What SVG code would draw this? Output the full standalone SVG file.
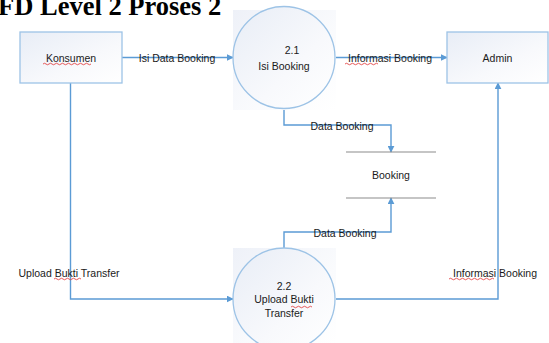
<svg xmlns="http://www.w3.org/2000/svg" width="549" height="343" viewBox="0 0 549 343">
  <defs>
    <linearGradient id="shade" x1="0" y1="0" x2="1" y2="1">
      <stop offset="0" stop-color="#e8edf6"/>
      <stop offset="0.6" stop-color="#f8f9fc"/>
      <stop offset="1" stop-color="#ffffff"/>
    </linearGradient>
    <linearGradient id="shadeSoft" x1="0" y1="0" x2="1" y2="1">
      <stop offset="0" stop-color="#eef1f8"/>
      <stop offset="0.6" stop-color="#fafbfd"/>
      <stop offset="1" stop-color="#ffffff"/>
    </linearGradient>
    <marker id="arrow" viewBox="0 0 10 10" refX="9" refY="5" markerWidth="7" markerHeight="7" markerUnits="userSpaceOnUse" orient="auto">
      <path d="M0,0 L10,5 L0,10 z" fill="#5b9bd5"/>
    </marker>
  </defs>
  <style>
    .title { font-family: "Liberation Serif", "Times New Roman", serif; font-weight: bold; font-size: 26.5px; fill: #000; }
    .lbl { font-family: "Liberation Sans", Arial, sans-serif; font-size: 10.5px; fill: #1a1a1a; }
    .entity { fill: url(#shade); stroke: #9dc3e6; stroke-width: 1.3; }
    .proc { fill: url(#shade); stroke: #9dc3e6; stroke-width: 1.3; }
    .bg { fill: url(#shadeSoft); }
    .store { stroke: #8c8c8c; stroke-width: 1.2; fill: none; }
    .flow { fill: none; stroke: #5b9bd5; stroke-width: 1.4; }
    .squig { fill: none; stroke: #e03030; stroke-width: 0.8; }
  </style>

  <rect width="549" height="343" fill="#ffffff"/>

  <text class="title" x="-2" y="15">FD Level 2 Proses 2</text>

  <!-- connectors -->
  <g id="connectors">
    <line class="flow" x1="122" y1="57.5" x2="233" y2="57.5" marker-end="url(#arrow)"/>
    <line class="flow" x1="335" y1="57.5" x2="447" y2="57.5" marker-end="url(#arrow)"/>
    <polyline class="flow" points="70.5,83 70.5,299 233,299" marker-end="url(#arrow)"/>
    <polyline class="flow" points="335,299 498,299 498,83" marker-end="url(#arrow)"/>
    <polyline class="flow" points="284,108 284,125 391,125 391,152" marker-end="url(#arrow)"/>
    <polyline class="flow" points="284,248 284,232 391,232 391,198" marker-end="url(#arrow)"/>

    <text class="lbl" x="177" y="61.5" text-anchor="middle">Isi Data Booking</text>
    <text class="lbl" x="390" y="61.5" text-anchor="middle">Informasi Booking</text>
    <path class="squig" d="M345,64 q1.5,-1.5 3,0 t3,0 t3,0 t3,0 t3,0 t3,0 t3,0 t3,0 t3,0 t3,0 t3,0"/>
    <text class="lbl" x="342" y="130" text-anchor="middle">Data Booking</text>
    <text class="lbl" x="345" y="237" text-anchor="middle">Data Booking</text>
    <text class="lbl" x="69" y="277" text-anchor="middle">Upload Bukti Transfer</text>
    <path class="squig" d="M54,279 q1.5,-1.5 3,0 t3,0 t3,0 t3,0 t3,0 t3,0 t3,0 t3,0 t3,0"/>
    <text class="lbl" x="495" y="277" text-anchor="middle">Informasi Booking</text>
    <path class="squig" d="M449,279 q1.5,-1.5 3,0 t3,0 t3,0 t3,0 t3,0 t3,0 t3,0 t3,0 t3,0 t3,0 t3,0 t3,0 t3,0 t3,0 t3,0"/>
  </g>

  <g id="konsumen">
    <rect class="entity" x="20" y="32" width="102" height="51"/>
    <text class="lbl" x="71" y="61.5" text-anchor="middle">Konsumen</text>
    <path class="squig" d="M43,64 q1.5,-1.5 3,0 t3,0 t3,0 t3,0 t3,0 t3,0 t3,0 t3,0 t3,0 t3,0 t3,0 t3,0 t3,0 t3,0 t3,0 t3,0"/>
  </g>

  <g id="admin">
    <rect class="entity" x="447" y="32" width="101" height="51"/>
    <text class="lbl" x="497.5" y="61.5" text-anchor="middle">Admin</text>
  </g>

  <g id="proses-2-1">
    <rect class="bg" x="233" y="10" width="103" height="100"/>
    <circle class="proc" cx="284" cy="57.5" r="51"/>
    <text class="lbl" x="292" y="54" text-anchor="middle">2.1</text>
    <text class="lbl" x="284" y="70" text-anchor="middle">Isi Booking</text>
  </g>

  <g id="booking-store">
    <line class="store" x1="346" y1="152" x2="436" y2="152"/>
    <line class="store" x1="346" y1="198" x2="436" y2="198"/>
    <text class="lbl" x="391" y="179" text-anchor="middle">Booking</text>
  </g>

  <g id="proses-2-2">
    <rect class="bg" x="233" y="248" width="103" height="95"/>
    <circle class="proc" cx="284" cy="299" r="51"/>
    <text class="lbl" x="284" y="290" text-anchor="middle">2.2</text>
    <text class="lbl" x="284" y="303" text-anchor="middle">Upload Bukti</text>
    <path class="squig" d="M291,307 q1.5,-1.5 3,0 t3,0 t3,0 t3,0 t3,0 t3,0 t3,0"/>
    <text class="lbl" x="284" y="317" text-anchor="middle">Transfer</text>
  </g>
</svg>
